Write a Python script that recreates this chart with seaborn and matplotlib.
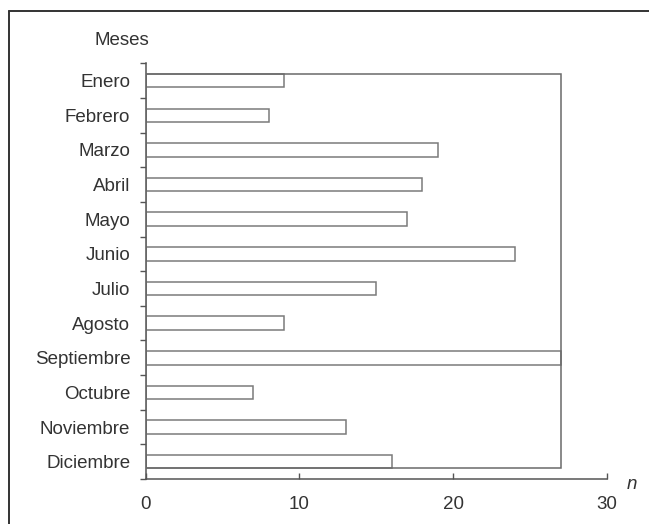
import matplotlib
matplotlib.use("Agg")
import matplotlib.pyplot as plt
from matplotlib.lines import Line2D
from matplotlib.patches import Rectangle
import seaborn as sns
import pandas as pd
import numpy as np

meses = ["Enero", "Febrero", "Marzo", "Abril", "Mayo", "Junio", "Julio",
         "Agosto", "Septiembre", "Octubre", "Noviembre", "Diciembre"]
valores = [9, 8, 19, 18, 17, 24, 15, 9, 27, 7, 13, 16]
x_ticks = [0, 10, 20, 30]

sns.set_style("white")
plt.rcParams["font.family"] = ["Liberation Sans", "DejaVu Sans"]
plt.rcParams["text.color"] = "#333333"
plt.rcParams["xtick.color"] = "#555555"
plt.rcParams["ytick.color"] = "#555555"
plt.rcParams["xtick.labelcolor"] = "#333333"
plt.rcParams["ytick.labelcolor"] = "#333333"

fs = 13.5
df = pd.DataFrame({"mes": meses, "n": valores})

fig = plt.figure(figsize=(6.49, 5.24), dpi=100)
ax = fig.add_axes([145.6 / 649, (524 - 479) / 524, (607 - 145.6) / 649, (479 - 63.4) / 524])

bar_w = 0.39
edge = "#7a7a7a"
sns.barplot(data=df, x="n", y="mes", orient="h", color="white", saturation=1,
            edgecolor=edge, linewidth=1.1, width=bar_w, ax=ax)

# frame enclosing all bars up to the maximum
ax.add_patch(Rectangle((0, -bar_w / 2), max(valores), len(meses) - 1 + bar_w,
                       fill=False, edgecolor="#6a6a6a", linewidth=1.1, zorder=3))

ax.set_xlim(0, 30)
ax.set_ylim(len(meses) - 0.5, -0.5)
ax.set_xticks(x_ticks)
ax.set_xticklabels([str(t) for t in x_ticks], fontsize=fs)
ax.set_yticks(range(len(meses)))
ax.set_yticklabels(meses, fontsize=fs)
ax.set_yticks(np.arange(-0.5, len(meses), 1.0), minor=True)
ax.tick_params(left=True, bottom=True, which="both")
ax.tick_params(axis="y", which="major", length=0, pad=11)
ax.tick_params(axis="y", which="minor", length=4, width=1.0, direction="out")
ax.tick_params(axis="x", which="major", length=4, width=1.0, direction="in", pad=12)
ax.tick_params(axis="x", which="minor", length=0)
ax.set_xlabel("")
ax.set_ylabel("")

for s in ["top", "right"]:
    ax.spines[s].set_visible(False)
for s in ["left", "bottom"]:
    ax.spines[s].set_color("#555555")
    ax.spines[s].set_linewidth(1.1)

ax.text(-0.052, 1.056, "Meses", transform=ax.transAxes, ha="center", va="center",
        fontsize=fs)
ax.text(1.054, -0.014, "n", transform=ax.transAxes, ha="center", va="center",
        fontsize=fs, style="italic")

# outer frame of the original figure (top and left border)
fig.add_artist(Line2D([9 / 649, 9 / 649], [0, 1 - 11 / 524], transform=fig.transFigure,
                      color="#333333", linewidth=1.4))
fig.add_artist(Line2D([9 / 649, 1], [1 - 11 / 524, 1 - 11 / 524], transform=fig.transFigure,
                      color="#333333", linewidth=1.4))

fig.savefig("out.png", dpi=100)
